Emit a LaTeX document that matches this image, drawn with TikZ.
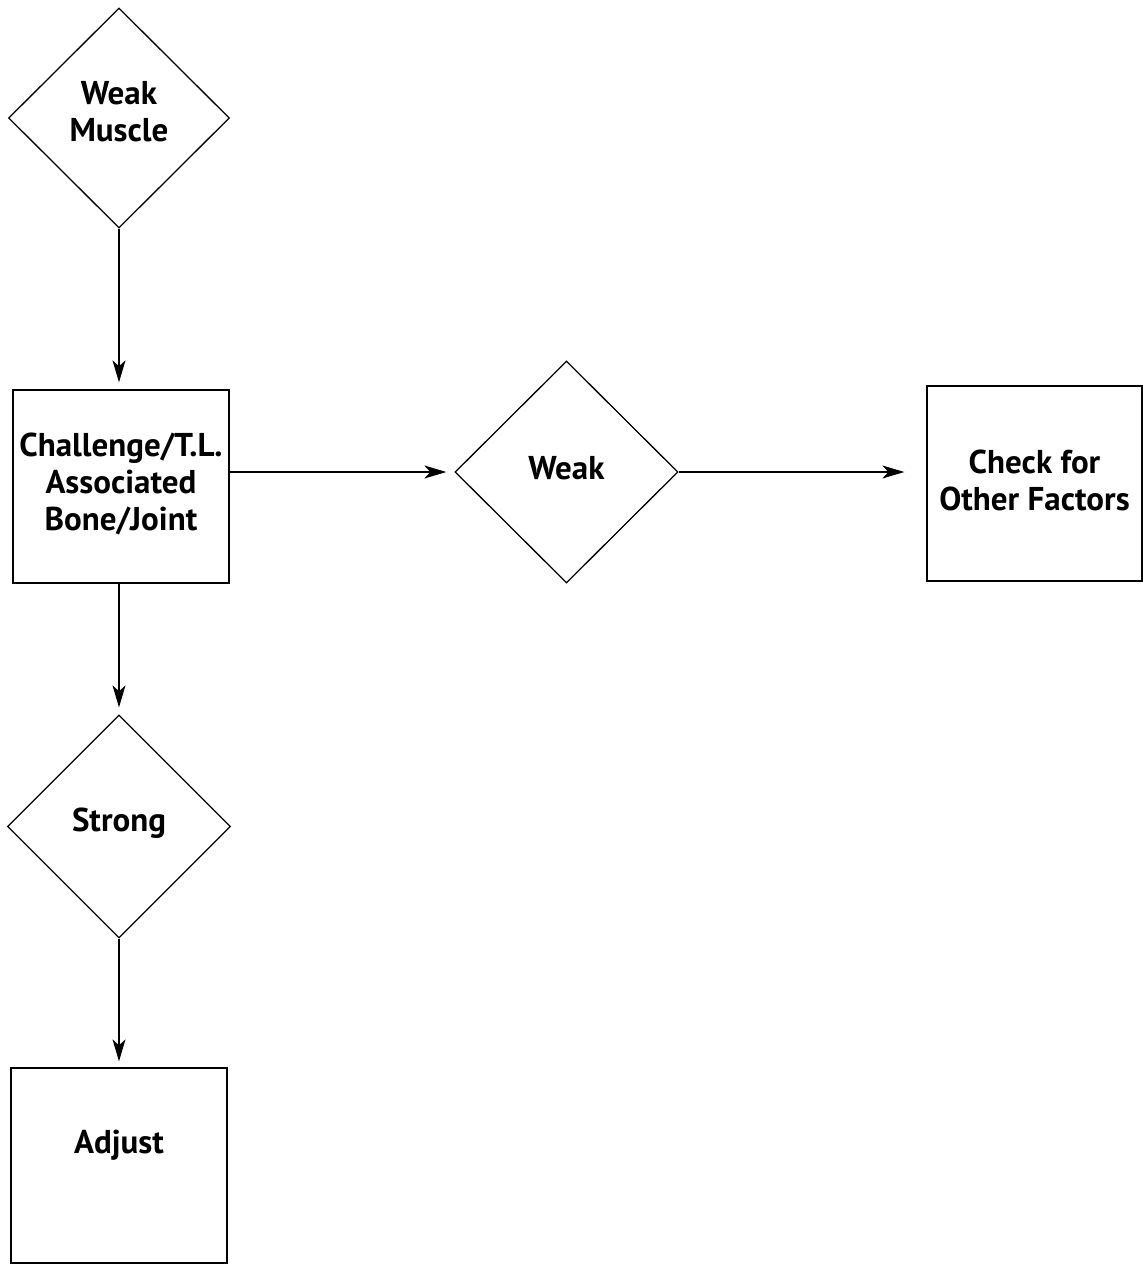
\documentclass[tikz,border=0pt]{standalone}
\usepackage{fontspec}
\setmainfont{PT Sans}
\usetikzlibrary{shapes.geometric,arrows.meta}
\begin{document}
\begin{tikzpicture}[x=1pt,y=-1pt,
  every node/.style={font=\bfseries\fontsize{33}{37}\selectfont, align=center, line width=1.3pt},
  decision/.style={draw, diamond, inner sep=0pt},
  stepbox/.style={draw, rectangle, inner sep=0pt},
  flow/.style={-{Stealth[length=22pt,width=13pt,inset=6pt]}, line width=1.3pt}]
\useasboundingbox (0,0) rectangle (1143,1264);
% decisions
\node[decision, minimum width=221pt, minimum height=220pt] (muscle) at (119,118) {};
\node at (119,112) {Weak\\Muscle};
\node[decision, minimum width=223pt, minimum height=222pt] (weak) at (566.5,472) {};
\node at (566.5,468) {Weak};
\node[decision, minimum width=223pt, minimum height=223pt] (strong) at (119,826.5) {};
\node at (119,823) {Strong};
% boxes
\node[stepbox, minimum width=216pt, minimum height=193pt] (challenge) at (121,486.5) {};
\node at (121,484) {Challenge/T.L.\\Associated\\Bone/Joint};
\node[stepbox, minimum width=215pt, minimum height=195pt] (check) at (1034.5,483.5) {};
\node at (1034.5,480) {Check for\\Other Factors};
\node[stepbox, minimum width=216pt, minimum height=195pt] (adjust) at (119,1165.5) {};
\node at (119,1145) {Adjust};
% connectors
\draw[flow, shorten >=7pt] (muscle.south) -- (muscle.south |- challenge.north);
\draw[flow, shorten >=8pt] (challenge.east |- weak.west) -- (weak.west);
\draw[flow, shorten >=22pt] (weak.east) -- (weak.east -| check.west);
\draw[flow, shorten >=7pt] (strong.north |- challenge.south) -- (strong.north);
\draw[flow, shorten >=6pt] (strong.south) -- (strong.south |- adjust.north);
\end{tikzpicture}
\end{document}
